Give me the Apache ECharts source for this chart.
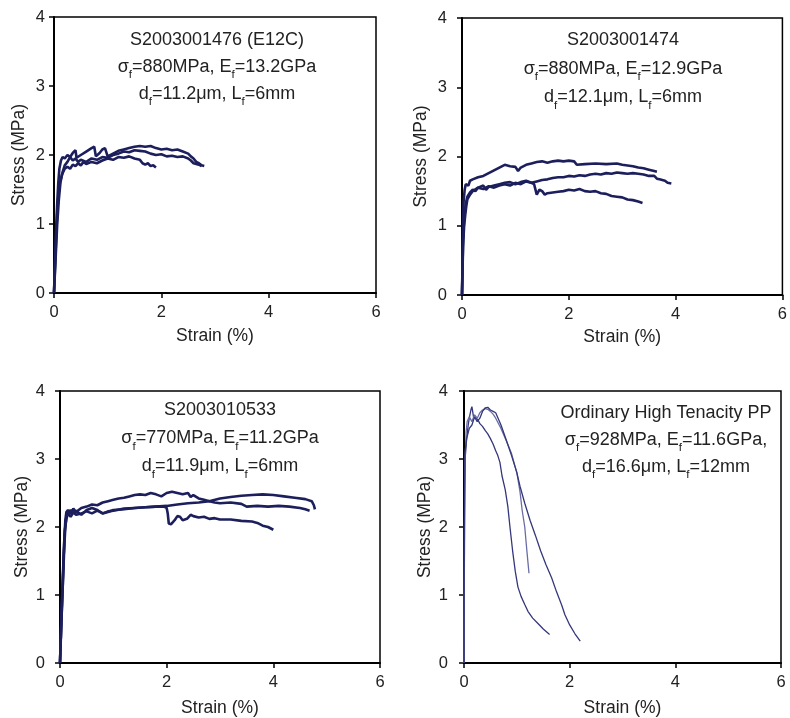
<!DOCTYPE html>
<html>
<head>
<meta charset="utf-8">
<script src="https://cdn.jsdelivr.net/npm/echarts@6/dist/echarts.min.js"></script>
<style>
html,body{margin:0;padding:0;background:#fff;}
#chart{width:790px;height:718px;}
</style>
</head>
<body>
<div id="chart"></div>
<script>
// ---- Data: [strain (%), stress (MPa)] ----
const p1a = [[0,0],[0.02,0.4],[0.04,0.8],[0.06,1.15],[0.08,1.4],[0.11,1.6],[0.15,1.72],[0.2,1.8],[0.25,1.83],[0.3,1.8],[0.35,1.86],[0.4,1.84],[0.45,1.88],[0.5,1.85],[0.55,1.9],[0.6,1.87],[0.7,1.9],[0.8,1.88],[0.9,1.92],[1.0,1.95],[1.1,1.93],[1.2,1.97],[1.3,1.96],[1.4,1.98],[1.5,1.95],[1.6,1.93],[1.65,1.88],[1.7,1.86],[1.75,1.88],[1.8,1.84],[1.85,1.85],[1.9,1.82]];
const p1b = [[0,0],[0.02,0.5],[0.04,0.95],[0.06,1.3],[0.08,1.6],[0.1,1.8],[0.13,1.92],[0.16,1.97],[0.2,1.95],[0.25,2.0],[0.3,1.97],[0.35,2.03],[0.4,2.07],[0.42,1.96],[0.5,2.0],[0.6,2.05],[0.7,2.1],[0.75,2.12],[0.78,1.98],[0.85,2.03],[0.9,2.08],[0.95,2.1],[1.0,1.98],[1.1,2.02],[1.2,2.06],[1.3,2.08],[1.4,2.1],[1.5,2.12],[1.6,2.13],[1.7,2.12],[1.8,2.13],[1.9,2.1],[2.0,2.08],[2.1,2.09],[2.2,2.07],[2.3,2.08],[2.4,2.05],[2.5,2.02],[2.55,1.98],[2.6,1.95],[2.65,1.9],[2.7,1.88],[2.75,1.85],[2.8,1.84]];
const p1c = [[0,0],[0.03,0.5],[0.06,1.0],[0.09,1.35],[0.12,1.6],[0.16,1.75],[0.2,1.85],[0.25,1.9],[0.3,1.97],[0.35,1.92],[0.4,1.95],[0.45,1.9],[0.5,1.93],[0.6,1.9],[0.7,1.95],[0.8,1.93],[0.9,1.97],[1.0,1.96],[1.1,2.0],[1.2,2.02],[1.3,2.05],[1.4,2.04],[1.5,2.07],[1.6,2.06],[1.7,2.05],[1.8,2.02],[1.9,2.0],[2.0,2.01],[2.1,1.98],[2.2,1.99],[2.3,1.97],[2.4,1.98],[2.5,1.95],[2.55,1.92],[2.6,1.88],[2.7,1.86],[2.75,1.84]];

const p2a = [[0,0],[0.01,0.5],[0.02,1.0],[0.03,1.35],[0.05,1.52],[0.07,1.6],[0.1,1.62],[0.12,1.58],[0.15,1.65],[0.2,1.67],[0.3,1.7],[0.4,1.72],[0.5,1.76],[0.6,1.8],[0.7,1.84],[0.8,1.88],[0.9,1.86],[1.0,1.85],[1.05,1.79],[1.1,1.84],[1.2,1.88],[1.3,1.9],[1.4,1.92],[1.5,1.93],[1.6,1.91],[1.7,1.93],[1.8,1.94],[1.9,1.93],[2.0,1.94],[2.1,1.93],[2.15,1.88],[2.3,1.89],[2.5,1.9],[2.7,1.89],[2.9,1.9],[3.0,1.88],[3.1,1.87],[3.2,1.86],[3.3,1.84],[3.4,1.83],[3.5,1.81],[3.6,1.79],[3.65,1.78]];
const p2b = [[0,0],[0.01,0.4],[0.02,0.8],[0.04,1.1],[0.06,1.25],[0.08,1.35],[0.1,1.42],[0.15,1.48],[0.2,1.52],[0.25,1.5],[0.3,1.55],[0.4,1.53],[0.5,1.57],[0.6,1.55],[0.7,1.58],[0.8,1.6],[0.9,1.58],[1.0,1.62],[1.1,1.6],[1.2,1.64],[1.3,1.62],[1.4,1.64],[1.5,1.66],[1.6,1.67],[1.7,1.69],[1.8,1.7],[1.9,1.7],[2.0,1.72],[2.1,1.71],[2.2,1.73],[2.3,1.72],[2.4,1.74],[2.5,1.75],[2.6,1.74],[2.7,1.76],[2.8,1.75],[2.9,1.77],[3.0,1.76],[3.1,1.75],[3.2,1.76],[3.3,1.75],[3.4,1.74],[3.5,1.72],[3.6,1.72],[3.65,1.68],[3.7,1.67],[3.8,1.65],[3.85,1.62],[3.92,1.61]];
const p2c = [[0,0],[0.01,0.35],[0.02,0.7],[0.04,1.0],[0.06,1.15],[0.08,1.28],[0.1,1.38],[0.15,1.45],[0.2,1.5],[0.3,1.55],[0.4,1.58],[0.45,1.52],[0.5,1.56],[0.6,1.58],[0.7,1.6],[0.8,1.62],[0.9,1.63],[1.0,1.6],[1.1,1.63],[1.2,1.65],[1.3,1.62],[1.35,1.6],[1.4,1.45],[1.45,1.52],[1.5,1.5],[1.55,1.45],[1.6,1.47],[1.7,1.48],[1.8,1.49],[1.9,1.5],[2.0,1.52],[2.1,1.51],[2.2,1.53],[2.3,1.5],[2.4,1.49],[2.5,1.5],[2.6,1.47],[2.7,1.46],[2.8,1.43],[2.9,1.42],[3.0,1.41],[3.1,1.38],[3.2,1.37],[3.3,1.35],[3.38,1.33]];

const p3a = [[0,0],[0.02,0.5],[0.04,1.0],[0.06,1.4],[0.08,1.8],[0.1,2.1],[0.12,2.22],[0.15,2.25],[0.2,2.2],[0.25,2.27],[0.3,2.22],[0.4,2.28],[0.5,2.3],[0.6,2.33],[0.7,2.32],[0.8,2.36],[0.9,2.38],[1.0,2.4],[1.1,2.42],[1.2,2.43],[1.3,2.45],[1.4,2.47],[1.5,2.48],[1.6,2.47],[1.7,2.5],[1.8,2.48],[1.9,2.45],[2.0,2.5],[2.1,2.52],[2.2,2.5],[2.3,2.48],[2.4,2.5],[2.45,2.44],[2.5,2.47],[2.6,2.42],[2.7,2.4],[2.8,2.38],[2.9,2.36],[3.0,2.35],[3.2,2.36],[3.4,2.34],[3.5,2.3],[3.7,2.31],[3.9,2.3],[4.1,2.31],[4.3,2.3],[4.5,2.28],[4.6,2.26],[4.68,2.24]];
const p3b = [[0,0],[0.02,0.45],[0.04,0.9],[0.06,1.3],[0.08,1.7],[0.1,2.0],[0.12,2.15],[0.15,2.2],[0.2,2.15],[0.25,2.22],[0.3,2.18],[0.4,2.2],[0.5,2.23],[0.6,2.2],[0.7,2.24],[0.8,2.2],[0.9,2.22],[1.0,2.25],[1.2,2.26],[1.4,2.28],[1.6,2.29],[1.8,2.3],[2.0,2.31],[2.2,2.33],[2.4,2.35],[2.6,2.36],[2.8,2.38],[3.0,2.42],[3.2,2.44],[3.4,2.46],[3.6,2.47],[3.8,2.48],[4.0,2.47],[4.2,2.45],[4.4,2.43],[4.6,2.41],[4.72,2.38],[4.76,2.32],[4.78,2.26]];
const p3c = [[0,0],[0.02,0.5],[0.05,1.1],[0.07,1.6],[0.09,1.95],[0.12,2.12],[0.15,2.2],[0.2,2.25],[0.25,2.2],[0.3,2.24],[0.4,2.18],[0.5,2.25],[0.6,2.28],[0.7,2.25],[0.8,2.2],[0.9,2.23],[1.0,2.24],[1.2,2.27],[1.4,2.28],[1.6,2.29],[1.8,2.3],[1.95,2.3],[2.0,2.28],[2.02,2.2],[2.04,2.05],[2.08,2.04],[2.15,2.1],[2.2,2.16],[2.25,2.15],[2.3,2.1],[2.38,2.12],[2.45,2.18],[2.5,2.16],[2.6,2.14],[2.7,2.15],[2.8,2.12],[2.9,2.13],[3.0,2.11],[3.2,2.11],[3.4,2.09],[3.6,2.08],[3.7,2.06],[3.8,2.02],[3.9,2.0],[4.0,1.96]];

const p4a = [[0,0],[0.005,1.0],[0.01,2.2],[0.02,3.0],[0.05,3.3],[0.08,3.5],[0.1,3.6],[0.13,3.72],[0.15,3.77],[0.18,3.62],[0.22,3.6],[0.26,3.58],[0.3,3.52],[0.35,3.48],[0.4,3.42],[0.45,3.37],[0.5,3.3],[0.55,3.22],[0.6,3.12],[0.64,3.05],[0.68,2.95],[0.72,2.75],[0.78,2.55],[0.83,2.3],[0.87,2.0],[0.92,1.65],[0.97,1.35],[1.02,1.12],[1.08,0.98],[1.15,0.86],[1.21,0.76],[1.3,0.66],[1.4,0.58],[1.5,0.5],[1.62,0.42]];
const p4b = [[0,0],[0.005,0.9],[0.01,2.0],[0.02,2.9],[0.04,3.4],[0.06,3.55],[0.1,3.62],[0.15,3.55],[0.2,3.65],[0.25,3.6],[0.3,3.68],[0.35,3.72],[0.4,3.74],[0.45,3.73],[0.5,3.7],[0.55,3.66],[0.6,3.6],[0.7,3.45],[0.8,3.27],[0.9,3.08],[1.0,2.8],[1.06,2.52],[1.1,2.25],[1.15,2.0],[1.19,1.65],[1.23,1.32]];
const p4c = [[0,0],[0.005,1.2],[0.01,2.5],[0.02,3.1],[0.05,3.3],[0.1,3.45],[0.15,3.5],[0.2,3.62],[0.25,3.55],[0.3,3.6],[0.35,3.7],[0.4,3.75],[0.45,3.76],[0.5,3.72],[0.55,3.7],[0.6,3.68],[0.7,3.5],[0.8,3.28],[0.9,3.05],[1.0,2.8],[1.06,2.6],[1.15,2.35],[1.25,2.1],[1.35,1.88],[1.45,1.65],[1.55,1.45],[1.66,1.25],[1.75,1.05],[1.85,0.85],[1.91,0.71],[2.0,0.56],[2.1,0.43],[2.2,0.32]];

const xTicks = [0, 2, 4, 6];
const yTicks = [0, 1, 2, 3, 4];
const xName = 'Strain (%)';
const yName = 'Stress (MPa)';

const notes = [
  ['S2003001476 (E12C)', ['σ','f','=880MPa, E','f','=13.2GPa'], ['d','f','=11.2μm, L','f','=6mm']],
  ['S2003001474', ['σ','f','=880MPa, E','f','=12.9GPa'], ['d','f','=12.1μm, L','f','=6mm']],
  ['S2003010533', ['σ','f','=770MPa, E','f','=11.2GPa'], ['d','f','=11.9μm, L','f','=6mm']],
  ['Ordinary High Tenacity PP', ['σ','f','=928MPa, E','f','=11.6GPa,'], ['d','f','=16.6μm, L','f','=12mm']]
];

// ---- Layout / style ----
const FONT = '"Liberation Sans", Arial, sans-serif';
const INK = '#1c1f5c';
const TXT = '#222';

const grids = [
  {left: 54, top: 17, width: 322, height: 276},
  {left: 462, top: 18, width: 321, height: 277},
  {left: 60, top: 391, width: 320, height: 273},
  {left: 464, top: 391, width: 317, height: 273}
];
const yNameGap = [26, 32, 29, 30];
const yLabelMargin = [9, 15, 15, 16];
const xNameGap = [34, 33, 36, 36];
const noteX = [217, 623, 220, 666];
const noteTop = [26.5, 26, 396.5, 399.5];
const noteLH = [27, 28.5, 28, 27];

const panelData = [[p1a, p1b, p1c], [p2a, p2b, p2c], [p3a, p3b, p3c], [p4a, p4b, p4c]];

const option = {
  animation: false,
  backgroundColor: '#fff',
  grid: grids.map(g => Object.assign({show: true, borderColor: '#000', borderWidth: 1.5, backgroundColor: 'transparent'}, g)),
  xAxis: grids.map((g, i) => ({
    type: 'value', gridIndex: i, min: xTicks[0], max: xTicks[xTicks.length - 1], interval: xTicks[1] - xTicks[0],
    name: xName, nameLocation: 'middle', nameGap: xNameGap[i],
    nameTextStyle: {fontSize: 17.5, color: TXT, fontFamily: FONT},
    axisLine: {show: true, onZero: false, lineStyle: {color: '#000', width: 2}},
    axisTick: {show: true, length: 5, lineStyle: {color: '#000', width: 1.5}},
    axisLabel: {fontSize: 16.5, color: TXT, fontFamily: FONT, margin: 11},
    splitLine: {show: false}
  })),
  yAxis: grids.map((g, i) => ({
    type: 'value', gridIndex: i, min: yTicks[0], max: yTicks[yTicks.length - 1], interval: yTicks[1] - yTicks[0],
    name: yName, nameLocation: 'middle', nameGap: yNameGap[i],
    nameTextStyle: {fontSize: 17.5, color: TXT, fontFamily: FONT},
    axisLine: {show: true, onZero: false, lineStyle: {color: '#000', width: 2}},
    axisTick: {show: true, length: 5, lineStyle: {color: '#000', width: 1.5}},
    axisLabel: {fontSize: 16.5, color: TXT, fontFamily: FONT, margin: yLabelMargin[i]},
    splitLine: {show: false}
  })),
  series: [],
  graphic: []
};

panelData.forEach((curves, i) => {
  curves.forEach((d, k) => {
    const thin = i === 3;
    option.series.push({
      type: 'line', xAxisIndex: i, yAxisIndex: i, data: d,
      showSymbol: false, symbol: 'none', smooth: false,
      lineStyle: {color: thin ? (k === 1 ? '#6a6ca6' : '#34377a') : INK, width: thin ? 1.3 : 2.6},
      silent: true
    });
  });
});

function richLine(parts) {
  return parts.map((p, j) => (j % 2 === 1 ? '{s|' + p + '}' : '{a|' + p + '}')).join('');
}

notes.forEach((n, i) => {
  const lh = noteLH[i];
  option.graphic.push({
    type: 'text',
    x: noteX[i],
    y: noteTop[i],
    silent: true,
    style: {
      text: '{a|' + n[0] + '}\n' + richLine(n[1]) + '\n' + richLine(n[2]),
      align: 'center',
      verticalAlign: 'top',
      fill: TXT,
      rich: {
        a: {fontSize: 18, lineHeight: lh, fontFamily: FONT, fill: TXT, color: TXT},
        s: {fontSize: 11.5, lineHeight: 16, fontFamily: FONT, fill: TXT, color: TXT, verticalAlign: 'bottom'}
      }
    }
  });
});

const chart = echarts.init(document.getElementById('chart'), null, {renderer: 'canvas'});
chart.setOption(option);
</script>
</body>
</html>
